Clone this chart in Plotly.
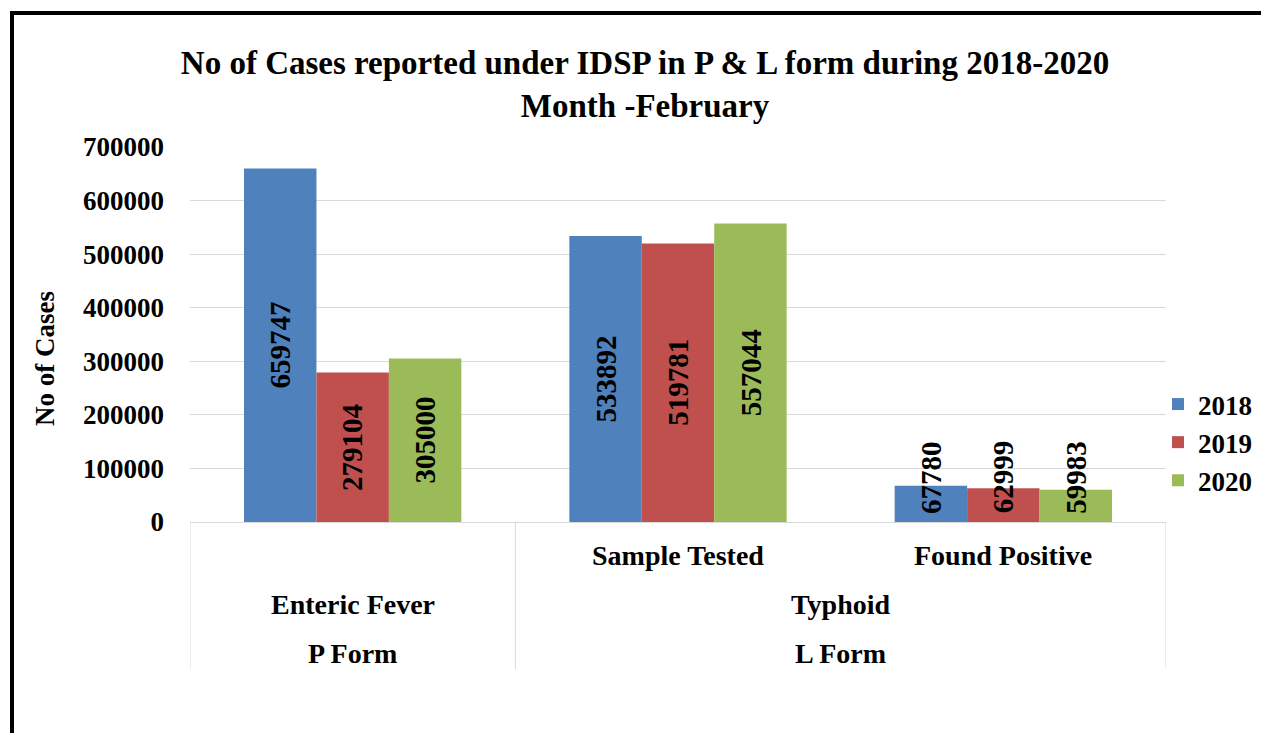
import plotly.graph_objects as go

# data
subcats = ["Enteric Fever", "Sample Tested", "Found Positive"]
diseases = ["Enteric Fever", "Typhoid"]
forms = ["P Form", "L Form"]
form_sizes = [1, 2]          # number of sub categories under each form
years = ["2018", "2019", "2020"]
cases_2018 = [659747, 533892, 67780]
cases_2019 = [279104, 519781, 62999]
cases_2020 = [305000, 557044, 59983]
colors = ["#4F81BD", "#C0504D", "#9BBB59"]

FONT = "Liberation Serif, Times New Roman, serif"
# the figure is a little wider than the 1261px window so the legend has room
# without plotly pushing the plot area in; the overflow is hidden
W, H = 1291, 733
L, R, T, B = 190, 125, 147, 211
PW, PH = W - L - R, H - T - B
BARGAP = 0.332
LABEL_MIN_Y = 84000


def px_x(px):
    return (px - L) / PW


def px_y(py):
    return (H - B - py) / PH


fig = go.Figure()
series = [cases_2018, cases_2019, cases_2020]
x_idx = list(range(len(subcats)))
for name, vals, col in zip(years, series, colors):
    fig.add_trace(go.Bar(x=x_idx, y=vals, name=name, marker=dict(color=col, line=dict(width=0))))

# data labels, centered in the bar, kept above the axis for short bars
bw = (1 - BARGAP) / len(years)
annotations = []
for j, vals in enumerate(series):
    off = (j - (len(years) - 1) / 2) * bw
    for i, v in enumerate(vals):
        annotations.append(dict(x=i + off, y=max(v / 2, LABEL_MIN_Y), xref="x", yref="y",
                                xanchor="center", yanchor="middle",
                                text=str(v), textangle=-90, showarrow=False,
                                font=dict(family=FONT, size=29, color="black", weight="bold")))

# multi-level category labels
lab_font = dict(family=FONT, size=28, color="black", weight="bold")


def cat_label(x, py, text):
    return dict(x=x, y=px_y(py), xref="x", yref="paper", xanchor="center", yanchor="middle",
                text=text, showarrow=False, font=lab_font)


annotations.append(cat_label(1, 555, subcats[1]))
annotations.append(cat_label(2, 555, subcats[2]))
start = 0
for d, f, n in zip(diseases, forms, form_sizes):
    c = start + (n - 1) / 2
    annotations.append(cat_label(c, 604, d))
    annotations.append(cat_label(c, 653, f))
    start += n

# y axis title (sits a bit below the middle of the axis, as in the original)
annotations.append(dict(x=px_x(45), y=px_y(359), xref="paper", yref="paper", xanchor="center",
                        yanchor="middle", text="No of Cases", textangle=-90, showarrow=False,
                        font=dict(family=FONT, size=27, color="black", weight="bold")))

shapes = []
bounds = [-0.5]
acc = 0
for n in form_sizes:
    acc += n
    bounds.append(acc - 0.5)
for b in bounds:
    shapes.append(dict(type="line", xref="x", yref="paper", x0=b, x1=b, y0=0, y1=px_y(669),
                       line=dict(color="#d9d9d9", width=1)))

# black frame on the left and top edges
shapes.append(dict(type="line", xref="paper", yref="paper", x0=px_x(12), x1=px_x(12),
                   y0=px_y(11), y1=px_y(H + 10), line=dict(color="black", width=4)))
shapes.append(dict(type="line", xref="paper", yref="paper", x0=px_x(10), x1=px_x(W + 10),
                   y0=px_y(13), y1=px_y(13), line=dict(color="black", width=4)))

fig.update_layout(
    width=W, height=H,
    margin=dict(l=L, r=R, t=T, b=B),
    paper_bgcolor="white", plot_bgcolor="white",
    barmode="group", bargap=BARGAP, bargroupgap=0,
    title=dict(text="No of Cases reported under IDSP in P & L form during 2018-2020<br>Month -February",
               x=645 / W, xanchor="center", y=1 - 74 / H, yanchor="top", yref="container",
               font=dict(family=FONT, size=33, color="black", weight="bold")),
    xaxis=dict(type="category", range=[-0.5, 2.5], showticklabels=False, showgrid=False,
               showline=True, linecolor="#d9d9d9", linewidth=1, zeroline=False),
    yaxis=dict(range=[0, 700000], dtick=100000, tickformat="d", showgrid=True, gridcolor="#d9d9d9",
               zeroline=False, showline=False, ticklabelstandoff=25,
               tickfont=dict(family=FONT, size=27, color="black", weight="bold")),
    legend=dict(x=px_x(1158), y=px_y(380), xanchor="left", yanchor="top",
                font=dict(family=FONT, size=27, color="black", weight="bold"),
                bgcolor="rgba(0,0,0,0)", itemwidth=30),
    annotations=annotations,
    shapes=shapes,
    showlegend=True,
)

fig.write_html("out.html", config={"displayModeBar": False},
               post_script="document.body.style.margin = '0'; document.body.style.overflow = 'hidden';")
